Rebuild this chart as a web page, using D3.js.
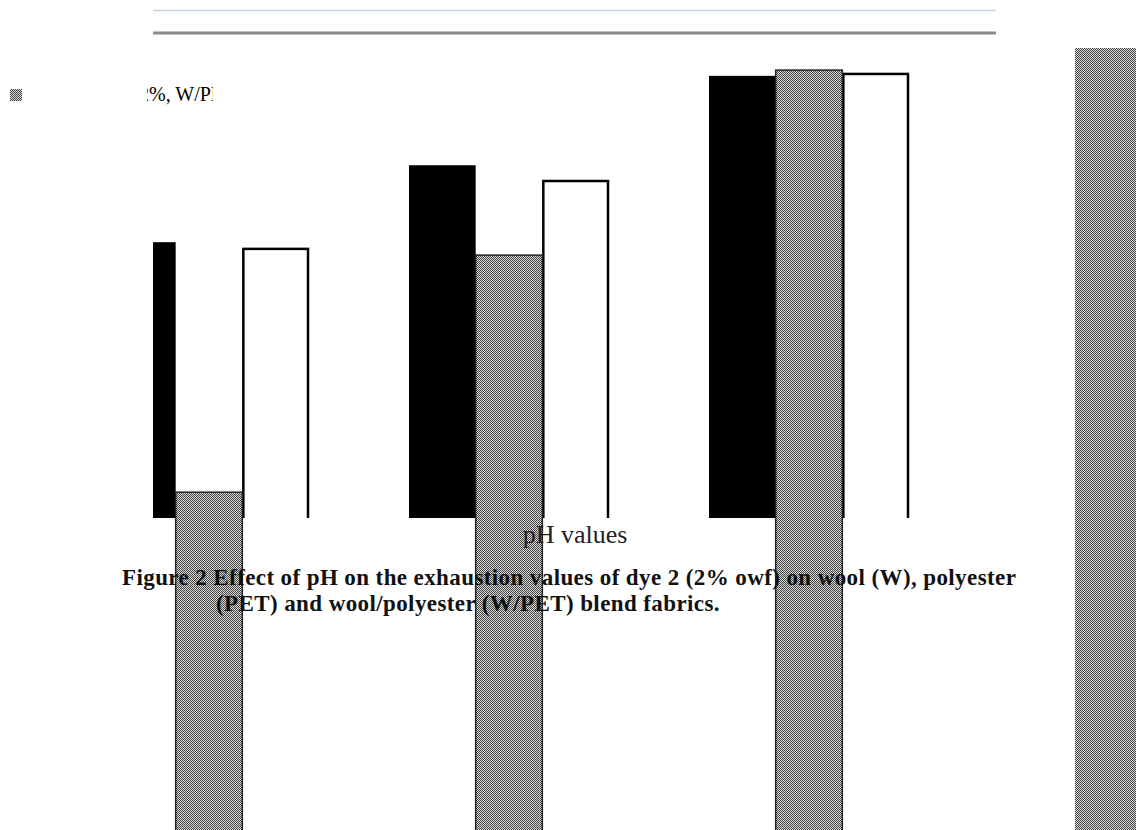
<!DOCTYPE html>
<html>
<head>
<meta charset="utf-8">
<script src="https://cdn.jsdelivr.net/npm/d3@7"></script>
<style>
  body { margin: 0; background: #fff; }
  svg { display: block; }
</style>
</head>
<body>
<div id="board"></div>
<script>
// values (exhaustion %, approx)
var categories = ['3', '5', '7'];
var series = ['W', 'PET', 'W/PET'];
var wValues = [57.7, 73.8, 92.5];
var petValues = [5.4, 55.0, 93.7];
var blendValues = [56.3, 70.5, 92.9];
var legendLabel = '2%, W/PET';
var xTitle = 'pH values';
var captionLines = [
  'Figure 2 Effect of pH on the exhaustion values of dye 2 (2% owf) on wool (W), polyester',
  '(PET) and wool/polyester (W/PET) blend fabrics.'
];

var W = 1136, H = 830;
var svg = d3.select('#board').append('svg')
  .attr('width', W)
  .attr('height', H);

var defs = svg.append('defs');

var pat = defs.append('pattern')
  .attr('id', 'dots')
  .attr('patternUnits', 'userSpaceOnUse')
  .attr('width', 2)
  .attr('height', 2);
pat.append('rect').attr('width', 2).attr('height', 2).attr('fill', '#d8d8d8');
pat.append('rect').attr('width', 1).attr('height', 1).attr('fill', '#444');
pat.append('rect').attr('x', 1).attr('y', 1).attr('width', 1).attr('height', 1).attr('fill', '#444');

// plot area is cut off on the left and at the baseline
defs.append('clipPath').attr('id', 'plotclip')
  .append('rect').attr('x', 153).attr('y', 0).attr('width', 900).attr('height', 518);
defs.append('clipPath').attr('id', 'legclip')
  .append('rect').attr('x', 147).attr('y', 70).attr('width', 66).attr('height', 40);

// top rules
svg.append('line')
  .attr('x1', 153).attr('x2', 996).attr('y1', 10.5).attr('y2', 10.5)
  .style('stroke', '#c5d3e6').style('stroke-width', 1.5);
svg.append('line')
  .attr('x1', 153).attr('x2', 996).attr('y1', 33).attr('y2', 33)
  .style('stroke', '#8a8a8a').style('stroke-width', 3);

var x0 = d3.scaleBand()
  .domain(categories)
  .range([59, 959])
  .paddingInner(1 / 3)
  .paddingOuter(1 / 6);

var x1 = d3.scaleBand()
  .domain(series)
  .range([0, x0.bandwidth()]);

var y = d3.scaleLinear()
  .domain([0, 100])
  .range([518, 40]);

var rows = categories.map(function(c, i) {
  return { cat: c, W: wValues[i], PET: petValues[i], 'W/PET': blendValues[i] };
});

var plot = svg.append('g').attr('clip-path', 'url(#plotclip)');

// W bars (solid black)
plot.selectAll('rect.w')
  .data(rows)
  .enter().append('rect')
  .attr('class', 'w')
  .attr('x', function(d) { return x0(d.cat) + x1('W'); })
  .attr('y', function(d) { return y(d.W); })
  .attr('width', x1.bandwidth())
  .attr('height', function(d) { return y(0) - y(d.W) + 10; })
  .style('fill', '#000');

// W/PET bars (white, outlined)
plot.selectAll('rect.b')
  .data(rows)
  .enter().append('rect')
  .attr('class', 'b')
  .attr('x', function(d) { return x0(d.cat) + x1('W/PET') + 1; })
  .attr('y', function(d) { return y(d['W/PET']); })
  .attr('width', x1.bandwidth() - 2)
  .attr('height', function(d) { return y(0) - y(d['W/PET']) + 10; })
  .style('fill', '#fff')
  .style('stroke', '#000')
  .style('stroke-width', 2.5);

// PET bars (dotted) spill past the baseline down the page
svg.selectAll('rect.p')
  .data(rows)
  .enter().append('rect')
  .attr('class', 'p')
  .attr('x', function(d) { return x0(d.cat) + x1('PET'); })
  .attr('y', function(d) { return y(d.PET); })
  .attr('width', x1.bandwidth())
  .attr('height', function(d) { return H - y(d.PET) + 5; })
  .style('fill', 'url(#dots)')
  .style('stroke', '#222')
  .style('stroke-width', 1.5);

// stray legend stripe on the right
svg.append('rect')
  .attr('x', 1075).attr('y', 48)
  .attr('width', 70).attr('height', H)
  .style('fill', 'url(#dots)');

// legend
svg.append('rect')
  .attr('x', 10).attr('y', 89)
  .attr('width', 12).attr('height', 12)
  .style('fill', 'url(#dots)');
svg.append('text')
  .attr('clip-path', 'url(#legclip)')
  .attr('x', 139).attr('y', 101)
  .style('font-family', '"Liberation Serif", "DejaVu Serif", serif')
  .style('font-size', '20px')
  .text(legendLabel);

// axis title
svg.append('text')
  .attr('x', 575).attr('y', 543)
  .attr('text-anchor', 'middle')
  .style('font-family', '"Liberation Serif", "DejaVu Serif", serif')
  .style('font-size', '26px')
  .style('fill', '#222')
  .text(xTitle);

// caption
svg.selectAll('text.cap')
  .data(captionLines)
  .enter().append('text')
  .attr('class', 'cap')
  .attr('x', function(d, i) { return i === 0 ? 122 : 216; })
  .attr('y', function(d, i) { return 585 + i * 26; })
  .style('font-family', '"Liberation Serif", "DejaVu Serif", serif')
  .style('font-weight', 'bold')
  .style('font-size', '23px')
  .style('letter-spacing', '0.4px')
  .style('fill', '#111')
  .text(function(d) { return d; });
</script>
</body>
</html>
